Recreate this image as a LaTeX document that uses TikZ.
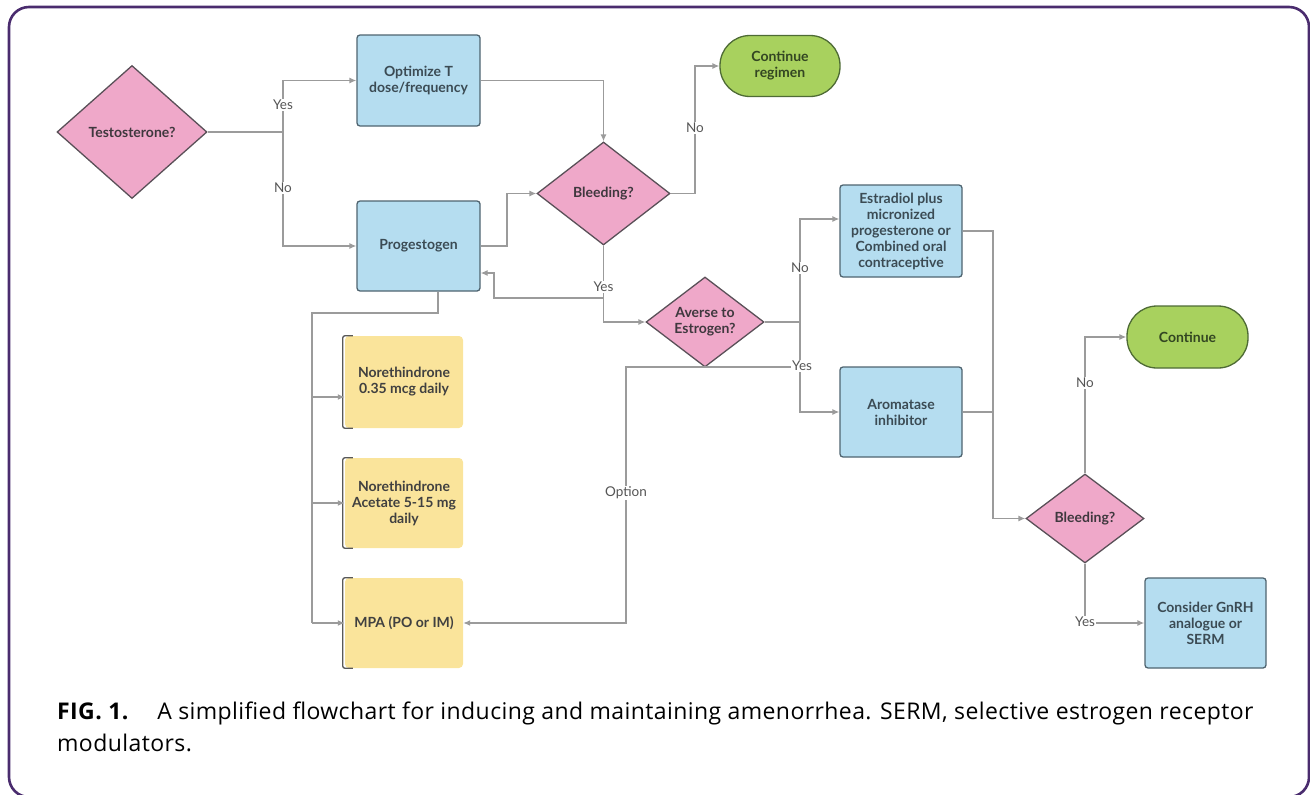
\documentclass[tikz,border=0pt]{standalone}
\usepackage{fontspec}
\setmainfont{Lato}
\newfontfamily\capfont[LetterSpace=1.8]{Open Sans}
\usetikzlibrary{shapes.geometric,arrows.meta}
\definecolor{frameC}{HTML}{4A2C6E}
\definecolor{lineC}{HTML}{9B9B9B}
\definecolor{pinkF}{HTML}{EFA8C9}
\definecolor{pinkD}{HTML}{5A5058}
\definecolor{blueF}{HTML}{B5DDF0}
\definecolor{blueD}{HTML}{4F6470}
\definecolor{greenF}{HTML}{A8D15E}
\definecolor{greenD}{HTML}{4E6B35}
\definecolor{yellowF}{HTML}{FAE49B}
\definecolor{labC}{HTML}{555555}
\begin{document}
\begin{tikzpicture}[x=1pt,y=-1pt,
  txt/.style={font=\bfseries\fontsize{14}{16}\selectfont, align=center},
  dia/.style={txt, diamond, draw=pinkD, fill=pinkF, line width=1.3pt, inner sep=0pt, text=pinkD!70!black},
  bbox/.style={txt, rectangle, rounded corners=3pt, draw=blueD, fill=blueF, line width=1.3pt, inner sep=1pt, text=blueD!75!black},
  term/.style={txt, rectangle, rounded corners=30pt, draw=greenD, fill=greenF, line width=1.3pt, text=greenD!65!black},
  note/.style={txt, rectangle, rounded corners=4pt, fill=yellowF, text=black!75, inner sep=1pt},
  bracket/.style={draw=black!65, line width=1.3pt, rounded corners=2pt},
  conn/.style={draw=lineC, line width=1.3pt},
  arr/.style={conn, -{Latex[length=7pt,width=6pt]}},
  lab/.style={font=\fontsize{13.5}{15}\selectfont, text=labC, fill=white, inner sep=1pt},
  captxt/.style={font=\capfont\fontsize{23}{32}\selectfont, inner sep=0pt, anchor=base west},
]
\useasboundingbox (0,0) rectangle (1310,795);
\draw[frameC, line width=2.6pt, rounded corners=20pt] (9,7) rectangle (1309,797);

% nodes
\node[dia, minimum width=150pt, minimum height=133pt] (test) at (132,132) {Testosterone?};
\node[bbox, minimum width=123pt, minimum height=91pt] (opt) at (418.5,80.5) {Optimize T\\dose/frequency};
\node[bbox, minimum width=123pt, minimum height=90pt] (prog) at (418.5,246) {Progestogen};
\node[dia, minimum width=133pt, minimum height=103pt] (bl1) at (603.5,193.5) {Bleeding?};
\node[term, minimum width=120pt, minimum height=61pt] (cont1) at (780,66) {Continue\\regimen};
\node[dia, minimum width=118pt, minimum height=90pt] (av) at (705,322) {Averse to\\Estrogen?};
\node[bbox, minimum width=122pt, minimum height=92pt] (estr) at (901,231) {Estradiol plus\\micronized\\progesterone or\\Combined oral\\contraceptive};
\node[bbox, minimum width=122pt, minimum height=90pt] (arom) at (901,412) {Aromatase\\inhibitor};
\node[dia, minimum width=118pt, minimum height=89pt] (bl2) at (1085,518.5) {Bleeding?};
\node[term, minimum width=121pt, minimum height=62pt] (cont2) at (1187.5,337) {Continue};
\node[bbox, minimum width=121pt, minimum height=90pt] (cons) at (1205.5,623) {Consider GnRH\\analogue or\\SERM};
\node[note, minimum width=118pt, minimum height=92pt] (y1) at (404,382) {Norethindrone\\0.35 mcg daily};
\node[note, minimum width=118pt, minimum height=90pt] (y2) at (404,503) {Norethindrone\\Acetate 5-15 mg\\daily};
\node[note, minimum width=118pt, minimum height=90pt] (y3) at (404,623) {MPA (PO or IM)};
\foreach \n in {y1,y2,y3}{
  \draw[bracket] ([xshift=8pt]\n.north west) -- ([xshift=-2pt]\n.north west) -- ([xshift=-2pt]\n.south west) -- ([xshift=8pt]\n.south west);
}

% junction coordinates
\coordinate (tj) at (283,132);
\coordinate (byj) at (603.5,298);
\coordinate (avj) at (800,322);
\coordinate (ayes) at (800,367);
\coordinate (pj) at (312,313);

% connectors
\draw[conn] (test.east) -- (tj);
\draw[arr] (tj) |- (opt.west);
\draw[arr] (tj) |- (prog.west);
\node[lab] at (283,105) {Yes};
\node[lab] at (283,188) {No};

\draw[arr] (opt.east) -| (bl1.north);
\draw[arr] (prog.east) -- (507,246) |- (bl1.west);
\draw[arr] (bl1.east) -- (695,193.5) |- (cont1.west);
\node[lab] at (695,128) {No};

\draw[arr] (bl1.south) |- (av.west);
\draw[arr] (byj) -- (494,298) |- (prog.east |- 0,273);
\node[lab] at (603.5,287) {Yes};

\draw[conn] (av.east) -- (avj);
\draw[arr] (avj) |- (estr.west |- 0,219);
\draw[arr] (avj) |- (arom.west);
\draw[arr] (ayes) -- (626,367) |- (y3.east);
\node[lab] at (800,268) {No};
\node[lab] at (802,366) {Yes};
\node[lab] at (626,493) {Option};

\draw[arr] (estr.east) -- (993,231) |- (bl2.west);
\draw[conn] (arom.east) -- (993,412);
\draw[arr] (bl2.north) |- (cont2.west);
\node[lab] at (1085,383) {No};
\draw[arr] (bl2.south) |- (cons.west);
\node[lab] at (1085,622) {Yes};

\draw[conn] (prog.south -| 438,0) |- (pj) -- (312,623);
\draw[arr] (312,397) -- (y1.west |- 0,397);
\draw[arr] (312,503) -- (y2.west);
\draw[arr] (312,623) -- (y3.west);

% caption
\node[captxt] (cap1) at (57,719) {{\bfseries FIG. 1.}\hspace{29pt}A simplified flowchart for inducing and maintaining amenorrhea. SERM, selective estrogen receptor};
\node[captxt] (cap2) at (57,751) {modulators.};
\end{tikzpicture}
\end{document}
